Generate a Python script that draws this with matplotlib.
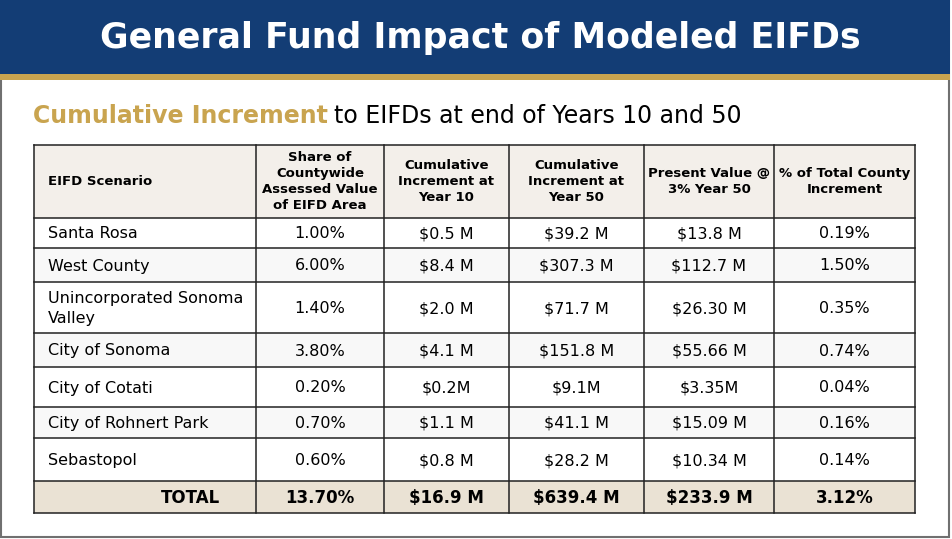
import matplotlib.pyplot as plt
from matplotlib.patches import Rectangle

# table content
header = ["EIFD Scenario", "Share of\nCountywide\nAssessed Value\nof EIFD Area",
          "Cumulative\nIncrement at\nYear 10", "Cumulative\nIncrement at\nYear 50",
          "Present Value @\n3% Year 50", "% of Total County\nIncrement"]
scenarios = ["Santa Rosa", "West County", "Unincorporated Sonoma\nValley", "City of Sonoma",
             "City of Cotati", "City of Rohnert Park", "Sebastopol"]
share = ["1.00%", "6.00%", "1.40%", "3.80%", "0.20%", "0.70%", "0.60%"]
inc_year10 = ["$0.5 M", "$8.4 M", "$2.0 M", "$4.1 M", "$0.2M", "$1.1 M", "$0.8 M"]
inc_year50 = ["$39.2 M", "$307.3 M", "$71.7 M", "$151.8 M", "$9.1M", "$41.1 M", "$28.2 M"]
present_value = ["$13.8 M", "$112.7 M", "$26.30 M", "$55.66 M", "$3.35M", "$15.09 M", "$10.34 M"]
pct_county = ["0.19%", "1.50%", "0.35%", "0.74%", "0.04%", "0.16%", "0.14%"]
total_row = ["TOTAL", "13.70%", "$16.9 M", "$639.4 M", "$233.9 M", "3.12%"]

navy = "#133D75"
gold = "#C9A44F"

W, H = 952, 539
fig = plt.figure(figsize=(W / 100, H / 100), dpi=100)
ax = fig.add_axes([0, 0, 1, 1])
ax.set_xlim(0, W)
ax.set_ylim(H, 0)
ax.axis('off')

# slide frame and title band
ax.add_patch(Rectangle((1, 1), W - 4, H - 3, facecolor='white', edgecolor='#707070', lw=1.5))
ax.add_patch(Rectangle((0, 0), W - 2, 74, facecolor=navy, edgecolor='none'))
ax.add_patch(Rectangle((0, 74), W - 2, 6, facecolor=gold, edgecolor='none'))
ax.text(480, 38, "General Fund Impact of Modeled EIFDs", color='white', fontsize=25,
        fontweight='bold', family='DejaVu Sans', ha='center', va='center')

# subtitle: gold part + black part
t1 = ax.text(33, 116, "Cumulative Increment", color=gold, fontsize=17, fontweight='bold',
             ha='left', va='center')
fig.canvas.draw()
bb = t1.get_window_extent()
ax.text(bb.x1 + 6, 116, "to EIFDs at end of Years 10 and 50", color='black', fontsize=17,
        ha='left', va='center')

# grid geometry (pixels)
col_x = [34, 256, 384, 509, 644, 774, 915]
row_y = [145, 218, 248, 282, 333, 367, 407, 438, 481, 513]

# backgrounds
ax.add_patch(Rectangle((col_x[0], row_y[0]), col_x[-1] - col_x[0], row_y[1] - row_y[0],
                       facecolor='#F3EFEA', edgecolor='none'))
for i in range(len(scenarios)):
    fc = 'white' if i % 2 == 0 else '#F8F8F8'
    ax.add_patch(Rectangle((col_x[0], row_y[i + 1]), col_x[-1] - col_x[0],
                           row_y[i + 2] - row_y[i + 1], facecolor=fc, edgecolor='none'))
ax.add_patch(Rectangle((col_x[0], row_y[-2]), col_x[-1] - col_x[0], row_y[-1] - row_y[-2],
                       facecolor='#EAE2D4', edgecolor='none'))

# grid lines
for x in col_x:
    ax.plot([x, x], [row_y[0], row_y[-1]], color='#222222', lw=1.1)
for y in row_y:
    ax.plot([col_x[0], col_x[-1]], [y, y], color='#222222', lw=1.1)

def mid(a, b):
    return (a + b) / 2

# header row
hy = mid(row_y[0], row_y[1])
ax.text(48, hy, header[0], fontsize=9.5, fontweight='bold', ha='left', va='center')
for j in range(1, 6):
    ax.text(mid(col_x[j], col_x[j + 1]), hy, header[j], fontsize=9.5, fontweight='bold',
            ha='center', va='center', linespacing=1.3)

# data rows
columns = [share, inc_year10, inc_year50, present_value, pct_county]
for i, name in enumerate(scenarios):
    cy = mid(row_y[i + 1], row_y[i + 2])
    ax.text(48, cy + 1, name, fontsize=11.5, ha='left', va='center', linespacing=1.35)
    for j, col in enumerate(columns):
        ax.text(mid(col_x[j + 1], col_x[j + 2]), cy + 1, col[i], fontsize=11.5,
                ha='center', va='center')

# total row
ty = mid(row_y[-2], row_y[-1]) + 1
ax.text(220, ty, total_row[0], fontsize=12, fontweight='bold', ha='right', va='center')
for j in range(1, 6):
    ax.text(mid(col_x[j], col_x[j + 1]), ty, total_row[j], fontsize=12, fontweight='bold',
            ha='center', va='center')

fig.savefig('out.png', dpi=100)
